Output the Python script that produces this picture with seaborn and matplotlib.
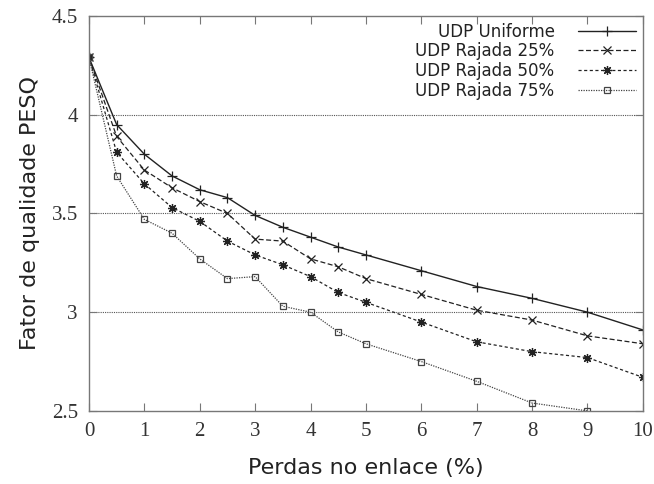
import pandas as pd
import matplotlib
matplotlib.use('Agg')
import matplotlib.pyplot as plt
import seaborn as sns

# Perdas no enlace (%)
perdas = [0, 0.5, 1, 1.5, 2, 2.5, 3, 3.5, 4, 4.5, 5, 6, 7, 8, 9, 10]

# Fator de qualidade PESQ por cenario
uniforme = [4.29, 3.95, 3.80, 3.69, 3.62, 3.58, 3.49, 3.43, 3.38, 3.33, 3.29, 3.21, 3.13, 3.07, 3.00, 2.91]
rajada25 = [4.29, 3.89, 3.72, 3.63, 3.56, 3.50, 3.37, 3.36, 3.27, 3.23, 3.17, 3.09, 3.01, 2.96, 2.88, 2.84]
rajada50 = [4.29, 3.81, 3.65, 3.53, 3.46, 3.36, 3.29, 3.24, 3.18, 3.10, 3.05, 2.95, 2.85, 2.80, 2.77, 2.67]
rajada75 = [4.29, 3.69, 3.47, 3.40, 3.27, 3.17, 3.18, 3.03, 3.00, 2.90, 2.84, 2.75, 2.65, 2.54, 2.50]

series = {
    'UDP Uniforme': uniforme,
    'UDP Rajada 25%': rajada25,
    'UDP Rajada 50%': rajada50,
    'UDP Rajada 75%': rajada75,
}

linhas = {
    'UDP Uniforme': dict(ls='-', lw=1.0, color='#222222'),
    'UDP Rajada 25%': dict(ls=(0, (4, 2)), lw=0.9, color='#222222'),
    'UDP Rajada 50%': dict(ls=(0, (2.5, 2)), lw=0.9, color='#222222'),
    'UDP Rajada 75%': dict(ls=(0, (1, 1)), lw=0.9, color='#444444'),
}
marcadores = {
    'UDP Uniforme': ('+', 7),
    'UDP Rajada 25%': ('x', 6),
    'UDP Rajada 50%': ((8, 2, 0), 6.5),
    'UDP Rajada 75%': ('s', 5),
}

sns.set_style('white')

fig = plt.figure(figsize=(6.54, 4.84), dpi=100)
ax = fig.add_axes([0.136, 0.151, 0.847, 0.816])

for nome, valores in series.items():
    df = pd.DataFrame({'perdas': perdas[:len(valores)], 'pesq': valores})
    sns.lineplot(data=df, x='perdas', y='pesq', ax=ax, label=nome, **linhas[nome])
    ln = ax.lines[-1]
    m, ms = marcadores[nome]
    ln.set_marker(m)
    ln.set_markersize(ms)
    ln.set_markeredgecolor(linhas[nome]['color'])
    ln.set_markeredgewidth(0.9)
    if m == 's':
        ln.set_markerfacecolor('none')

ax.set_xlim(0, 10)
ax.set_ylim(2.5, 4.5)
ax.set_xticks(range(0, 11))
ax.set_yticks([2.5, 3, 3.5, 4, 4.5])
ax.set_yticklabels(['2.5', '3', '3.5', '4', '4.5'])

for v in [3, 3.5, 4]:
    ax.axhline(v, color='#555555', ls=(0, (1, 1)), lw=0.8, zorder=0)

for s in ax.spines.values():
    s.set_color('#777777')
    s.set_linewidth(1.0)

ax.tick_params(direction='in', length=6, width=0.8, color='#777777',
               top=True, right=True, bottom=True, left=True, pad=8)
for lab in ax.get_xticklabels() + ax.get_yticklabels():
    lab.set_family('Liberation Serif')
    lab.set_fontsize(15)
    lab.set_color('#333333')

ax.set_xlabel('Perdas no enlace (%)', fontsize=16, family='DejaVu Sans', color='#222222', labelpad=12)
ax.set_ylabel('Fator de qualidade PESQ', fontsize=16, family='DejaVu Sans', color='#222222', labelpad=8)

leg = ax.legend(loc='upper right', frameon=False, markerfirst=False, fontsize=12,
                handlelength=3.5, labelspacing=0.1, borderaxespad=0.1, handletextpad=1.4,
                borderpad=0.3)
for t in leg.get_texts():
    t.set_color('#222222')

fig.savefig('out.png', dpi=100)
